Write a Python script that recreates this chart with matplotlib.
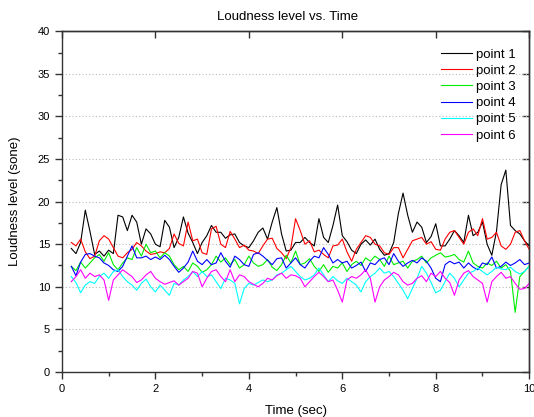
import numpy as np
import matplotlib
matplotlib.use("Agg")
import matplotlib.pyplot as plt
from matplotlib.ticker import MultipleLocator, NullLocator

plt.rcParams['font.family'] = ['Liberation Sans', 'DejaVu Sans']

# time axis, 0.1 s steps from 0.2 to 10.0 sec
time_sec = np.arange(2, 101) / 10.0

point1 = [14.5, 13.9, 15.2, 19.0, 16.5, 13.8, 14.2, 13.6, 14.3, 13.9,
          18.4, 18.2, 16.6, 18.4, 17.6, 15.0, 16.8, 16.2, 15.0, 14.7,
          17.8, 17.0, 14.6, 15.8, 18.2, 16.3, 15.2, 13.9, 15.2, 16.0,
          17.2, 16.4, 16.4, 15.7, 16.1, 16.2, 15.2, 14.8, 14.6, 15.4,
          16.4, 16.9, 15.6, 17.6, 19.3, 16.2, 14.2, 14.3, 15.2, 15.2,
          15.8, 15.2, 14.8, 18.0, 15.8, 15.2, 17.2, 19.6, 16.0, 15.3,
          14.3, 13.9, 15.0, 15.5, 14.9, 15.6, 14.4, 13.7, 13.9, 15.2,
          18.6, 21.0, 18.4, 16.4, 17.6, 17.0, 15.2, 15.9, 17.4, 14.8,
          14.8, 15.6, 16.6, 16.0, 15.2, 18.4, 16.0, 16.4, 17.6, 15.0,
          13.7, 16.5, 22.0, 23.7, 17.2, 16.6, 16.2, 15.4, 14.8]

point2 = [15.2, 14.8, 15.6, 14.1, 13.3, 13.6, 15.4, 16.0, 15.6, 14.6,
          13.6, 13.4, 14.0, 14.4, 15.2, 14.8, 14.2, 13.8, 13.9, 14.1,
          14.0, 14.5, 16.2, 15.1, 14.8, 17.6, 15.4, 15.6, 14.0, 13.8,
          16.8, 17.1, 15.0, 14.6, 16.5, 15.6, 14.6, 14.9, 14.3, 14.2,
          13.9, 14.8, 15.6, 15.7, 14.5, 14.0, 13.3, 14.6, 18.0, 16.6,
          15.0, 15.4, 14.1, 14.3, 13.8, 13.4, 14.8, 14.9, 15.6, 14.1,
          13.0, 14.4, 15.2, 16.0, 15.8, 15.0, 14.8, 14.0, 13.8, 14.6,
          14.6, 13.4, 14.4, 15.4, 15.6, 15.8, 15.0, 15.3, 14.4, 14.3,
          15.6, 16.4, 16.6, 15.8, 15.0, 16.4, 16.8, 16.0, 18.0, 15.6,
          15.8, 16.4, 14.8, 14.4, 15.0, 16.4, 16.6, 15.4, 14.4]

point3 = [12.4, 11.9, 12.9, 12.2, 12.8, 13.4, 13.8, 13.0, 14.0, 12.6,
          12.0, 12.8, 13.4, 13.2, 14.6, 13.6, 15.0, 14.0, 14.2, 13.4,
          14.0, 13.6, 12.6, 12.0, 12.4, 11.8, 12.8, 12.4, 11.7, 12.0,
          12.6, 13.6, 12.9, 13.4, 12.6, 13.2, 12.2, 12.6, 13.6, 12.8,
          12.4, 12.6, 13.2, 12.3, 11.9, 12.6, 13.7, 12.8, 14.2, 12.6,
          12.8, 13.3, 12.4, 11.8, 12.6, 11.7, 12.4, 12.2, 12.8, 11.8,
          12.6, 13.0, 12.5, 13.4, 13.0, 13.6, 13.2, 12.4, 13.6, 12.6,
          12.8, 13.0, 12.2, 13.0, 13.2, 13.6, 12.8, 13.4, 13.7, 14.0,
          13.5, 13.6, 13.8, 13.2, 12.9, 14.2, 12.8, 12.4, 12.2, 12.8,
          12.5, 13.0, 12.2, 12.6, 11.8, 7.0, 11.2, 11.8, 12.4]

point4 = [12.4, 11.3, 12.9, 13.8, 13.9, 13.6, 13.4, 12.8, 12.5, 12.0,
          11.8, 12.4, 13.6, 14.8, 13.4, 13.4, 13.6, 13.2, 13.5, 13.2,
          13.7, 13.2, 12.4, 11.7, 12.2, 12.9, 14.2, 13.0, 12.6, 13.2,
          12.6, 12.8, 14.0, 13.0, 12.3, 13.6, 13.2, 12.6, 12.4, 13.8,
          14.0, 13.6, 13.1, 12.6, 13.3, 13.4, 12.2, 12.8, 13.4, 12.6,
          12.2, 13.0, 13.6, 13.4, 14.6, 13.8, 12.8, 13.2, 12.8, 13.0,
          12.2, 12.5, 12.9, 11.8, 12.8, 12.6, 13.2, 13.4, 12.6, 13.9,
          13.0, 12.4, 12.8, 13.1, 12.8, 13.4, 13.0, 12.2, 11.0, 10.6,
          12.6, 13.0, 12.7, 12.9, 12.2, 12.8, 12.3, 12.0, 12.8, 12.6,
          13.5, 12.2, 12.4, 12.9, 12.5, 12.8, 13.2, 12.6, 12.8]

point5 = [11.2, 10.5, 9.3, 10.2, 10.6, 10.4, 11.2, 11.6, 11.0, 11.8,
          12.0, 11.2, 10.6, 10.2, 9.6, 10.4, 10.9, 10.0, 9.4, 10.2,
          9.6, 9.0, 10.4, 10.2, 10.8, 11.2, 11.8, 11.2, 11.8, 11.2,
          11.4, 10.6, 9.8, 11.0, 10.8, 10.4, 8.0, 9.8, 10.4, 10.2,
          10.5, 10.8, 10.6, 10.8, 11.4, 11.6, 12.0, 12.4, 11.8, 11.2,
          10.8, 11.0, 11.4, 12.2, 11.4, 10.6, 11.2, 10.7, 10.4, 11.0,
          10.6, 10.2, 9.4, 10.6, 11.2, 11.6, 12.2, 11.6, 11.8, 11.2,
          10.4, 9.6, 8.6, 9.8, 11.0, 12.4, 11.6, 10.5, 9.3, 9.6,
          10.6, 11.6, 11.0, 10.0, 10.8, 11.6, 11.8, 12.2, 11.8, 11.4,
          11.8, 12.3, 12.1, 12.0, 12.3, 11.8, 11.5, 11.8, 12.4]

point6 = [10.6, 11.2, 12.0, 11.0, 11.6, 11.2, 11.4, 10.8, 8.4, 10.8,
          11.4, 12.0, 11.6, 11.2, 10.5, 10.8, 11.4, 11.8, 11.0, 10.6,
          10.3, 10.5, 10.7, 10.2, 10.6, 11.0, 11.8, 11.6, 10.0, 11.0,
          11.8, 12.0, 11.2, 10.6, 12.0, 10.6, 11.4, 11.2, 10.6, 10.3,
          10.0, 10.4, 11.0, 10.8, 11.3, 11.6, 11.0, 11.4, 11.3, 11.0,
          10.0, 10.6, 11.2, 11.7, 11.2, 10.6, 10.8, 9.6, 8.2, 10.8,
          11.2, 11.0, 11.4, 12.0, 11.0, 8.2, 10.0, 10.8, 11.2, 11.7,
          11.4, 10.6, 10.2, 10.4, 11.0, 11.3, 10.6, 11.6, 11.2, 11.8,
          11.0, 10.5, 9.0, 10.8, 11.6, 11.9, 11.2, 10.8, 10.4, 8.2,
          10.6, 11.2, 11.7, 11.0, 11.2, 10.4, 9.7, 9.8, 10.4]

series = [point1, point2, point3, point4, point5, point6]
labels = ["point 1", "point 2", "point 3", "point 4", "point 5", "point 6"]
colors = ["#000000", "#ff0000", "#00ee00", "#0000ff", "#00ffff", "#ff00ff"]

fig = plt.figure(figsize=(5.34, 4.17), dpi=100)
ax = fig.add_axes([0.116, 0.108, 0.875, 0.817])

for vals, lab, col in zip(series, labels, colors):
    ax.plot(time_sec, vals, color=col, lw=0.8, label=lab)

ax.set_xlim(0, 10)
ax.set_ylim(0, 40)
ax.xaxis.set_major_locator(MultipleLocator(2))
ax.xaxis.set_minor_locator(MultipleLocator(1))
ax.yaxis.set_major_locator(MultipleLocator(5))
ax.yaxis.set_minor_locator(MultipleLocator(2.5))
ax.tick_params(which='major', direction='out', length=5, width=1,
               labelsize=8, color='#333333')
ax.tick_params(which='minor', direction='out', length=3, width=1,
               color='#333333')

# inward ticks on the mirrored top / right axes
top = ax.secondary_xaxis('top')
top.xaxis.set_major_locator(MultipleLocator(2))
top.xaxis.set_minor_locator(NullLocator())
top.tick_params(direction='in', length=5, width=1, labeltop=False, color='#333333')
right = ax.secondary_yaxis('right')
right.yaxis.set_major_locator(MultipleLocator(5))
right.yaxis.set_minor_locator(NullLocator())
right.tick_params(direction='in', length=5, width=1, labelright=False, color='#333333')

for sp in list(ax.spines.values()) + [top.spines['top'], right.spines['right']]:
    sp.set_color('#333333')
    sp.set_linewidth(1)

ax.yaxis.grid(True, linestyle=(0, (1, 2)), color='#bbbbbb', lw=0.8)

ax.set_title("Loudness level vs. Time", fontsize=9.5, x=0.482, pad=8)
ax.set_xlabel("Time (sec)", fontsize=9.5, labelpad=8)
ax.set_ylabel("Loudness level (sone)", fontsize=9.5, labelpad=12)

ax.legend(loc='upper right', bbox_to_anchor=(1.0086, 1.0), frameon=False,
          fontsize=9.5, handlelength=2.3, handletextpad=0.35,
          labelspacing=0.3, borderaxespad=0.9)

fig.savefig("out.png", dpi=100)
